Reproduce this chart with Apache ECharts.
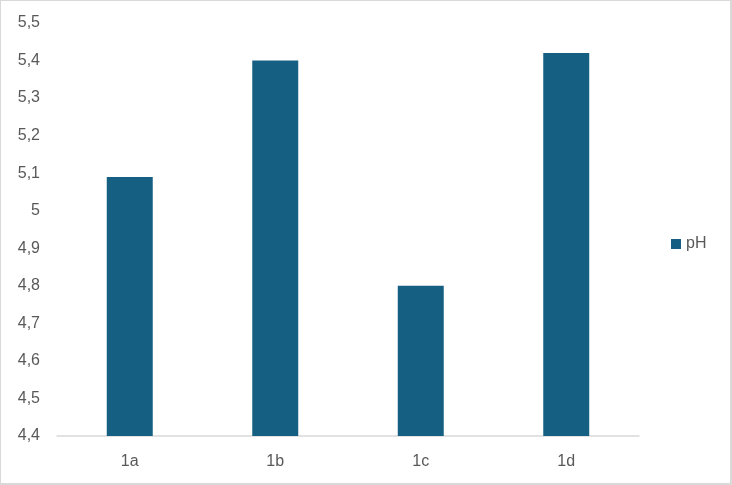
<!DOCTYPE html>
<html>
<head>
<meta charset="utf-8">
<script src="https://cdn.jsdelivr.net/npm/echarts@6/dist/echarts.min.js"></script>
<style>
  html, body { margin: 0; padding: 0; background: #fff; }
  #chart { width: 732px; height: 485px; box-sizing: border-box; border: 1px solid #d9d9d9; border-right-width: 2px; border-bottom-width: 2px; }
</style>
</head>
<body>
<div id="chart"></div>
<script>
var categories = ['1a', '1b', '1c', '1d'];
var phValues = [5.09, 5.40, 4.80, 5.42];

var myChart = echarts.init(document.getElementById('chart'));

var option = {
  animation: false,
  textStyle: { fontFamily: 'Liberation Sans, Arial, sans-serif' },
  legend: {
    data: ['pH'],
    orient: 'vertical',
    icon: 'rect',
    left: 665,
    top: 230,
    itemWidth: 10,
    itemHeight: 10,
    itemGap: 4,
    textStyle: { color: '#595959', fontSize: 16 }
  },
  grid: {
    left: 56,
    right: 91,
    top: 22,
    bottom: 47
  },
  xAxis: {
    type: 'category',
    data: categories,
    axisLine: { lineStyle: { color: '#d9d9d9', width: 1.5 } },
    axisTick: { show: false },
    axisLabel: { color: '#595959', fontSize: 16, margin: 18 }
  },
  yAxis: {
    type: 'value',
    min: 4.4,
    max: 5.5,
    interval: 0.1,
    splitLine: { show: false },
    axisLine: { show: false },
    axisTick: { show: false },
    axisLabel: {
      color: '#595959',
      fontSize: 16,
      margin: 17,
      formatter: function (v) {
        return String(Math.round(v * 10) / 10).replace('.', ',');
      }
    }
  },
  series: [{
    name: 'pH',
    type: 'bar',
    data: phValues,
    barWidth: '31.6%',
    itemStyle: { color: '#156082' }
  }]
};

myChart.setOption(option);
</script>
</body>
</html>
